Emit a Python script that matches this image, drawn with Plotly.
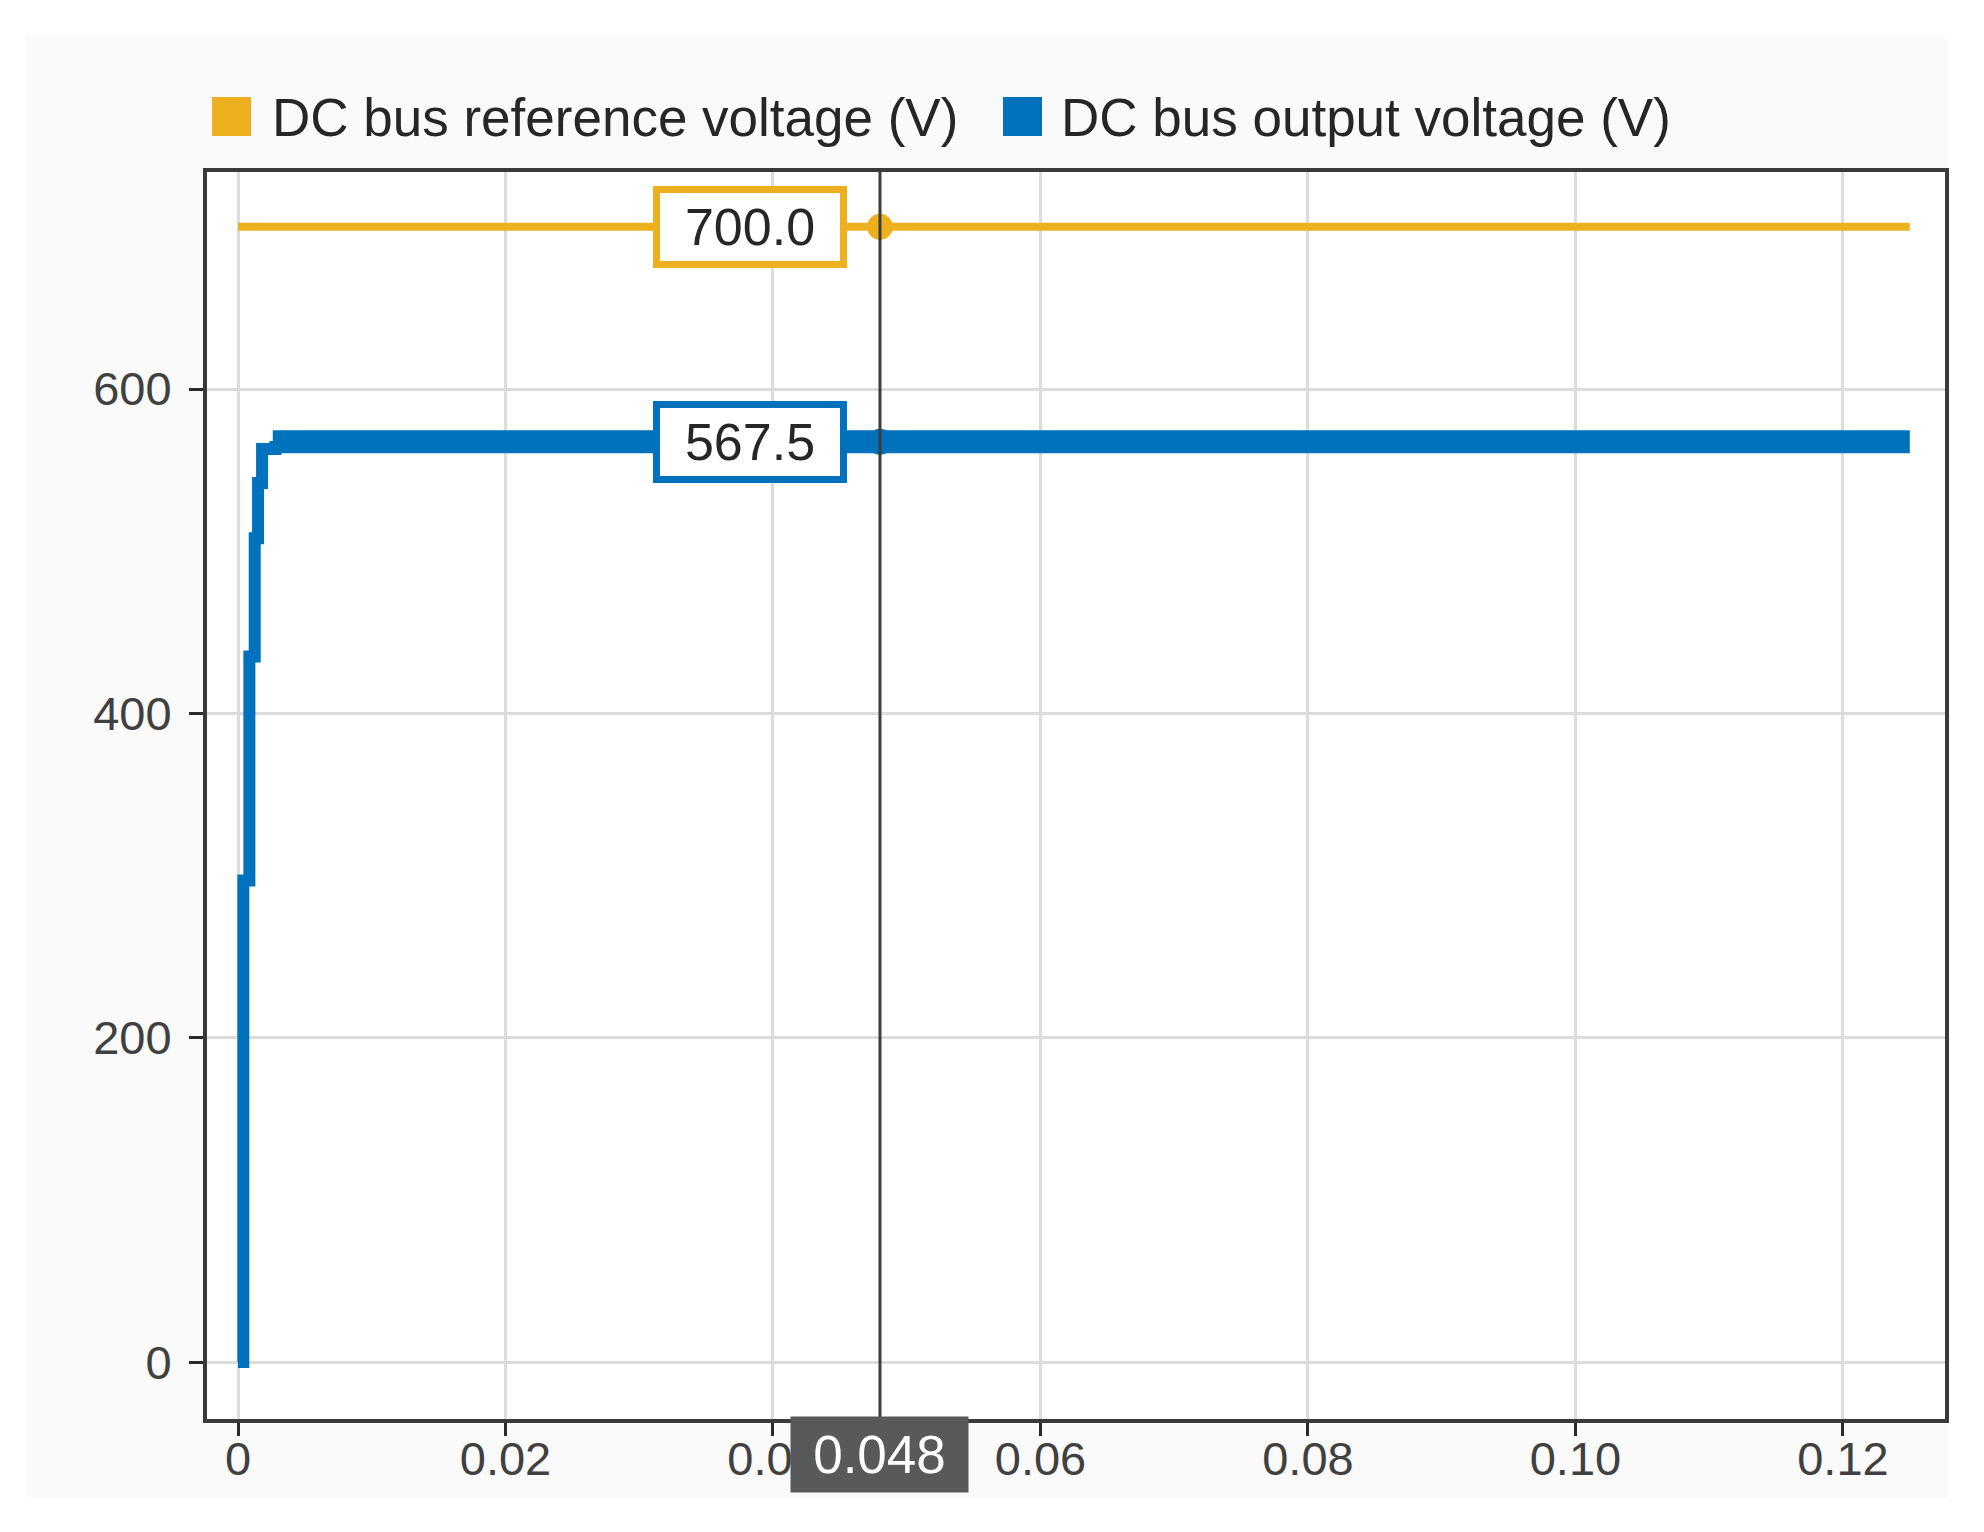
import plotly.graph_objects as go

# series names / colours
SERIES = ["DC bus reference voltage (V)", "DC bus output voltage (V)"]
COLORS = ["#EDB120", "#0072BD"]

# reference voltage (flat)
t_ref = [0.0, 0.125]
v_ref = [700.0, 700.0]

# output voltage: step-like start-up, then steady ripple band
t_out = [0.0, 0.0004, 0.00085, 0.00125, 0.0015, 0.0018, 0.0028]
v_out = [0.0, 297.0, 435.0, 508.0, 542.0, 563.0, 568.0]
t_steady = [0.0026, 0.125]
v_steady = [567.5, 567.5]

# data cursor
cursor_t = 0.048
cursor_vals = [700.0, 567.5]

x_ticks = [0, 0.02, 0.04, 0.06, 0.08, 0.10, 0.12]
x_ticktext = ["0", "0.02", "0.04", "0.06", "0.08", "0.10", "0.12"]
y_ticks = [0, 200, 400, 600]

TICK_FONT = dict(family="Liberation Sans, Arial", size=47, color="#404040")
LEG_FONT = dict(family="Liberation Sans, Arial", size=53, color="#262626")

# page is offset by the 8px body margin, so work in page pixels and convert
OFF = 8
W, H = 1984 - 2 * OFF, 1532 - 2 * OFF
L, T = 207 - OFF, 172 - OFF
R = W - (1945 - OFF)
B = H - (1419 - OFF)
pw, ph = W - L - R, H - T - B


def px_x(p):
    return (p - OFF - L) / pw


def px_y(p):
    return (H - B - (p - OFF)) / ph


fig = go.Figure()

fig.add_trace(go.Scatter(x=t_ref, y=v_ref, mode="lines", name=SERIES[0],
                         line=dict(color=COLORS[0], width=8), showlegend=False))
fig.add_trace(go.Scatter(x=t_out, y=v_out, mode="lines", name=SERIES[1],
                         line=dict(color=COLORS[1], width=12, shape="hv"), showlegend=False))
fig.add_trace(go.Scatter(x=t_steady, y=v_steady, mode="lines", name=SERIES[1],
                         line=dict(color=COLORS[1], width=23), showlegend=False))

# cursor dots
for val, col in zip(cursor_vals, COLORS):
    fig.add_trace(go.Scatter(x=[cursor_t], y=[val], mode="markers",
                             marker=dict(color=col, size=26), showlegend=False))

# cursor line
fig.add_shape(type="line", xref="x", yref="paper", x0=cursor_t, x1=cursor_t, y0=0, y1=1,
              line=dict(color="#3c3c3c", width=3), layer="above")

# cursor value boxes
for val, col in zip(cursor_vals, COLORS):
    fig.add_annotation(x=cursor_t, y=val, xref="x", yref="y", text=f"{val:.1f}",
                       showarrow=False, xanchor="right", yanchor="middle", xshift=-33,
                       font=dict(family="Liberation Sans, Arial", size=52, color="#262626"),
                       bgcolor="white", bordercolor=col, borderwidth=7, borderpad=3,
                       width=174, height=62)

# cursor time label on the x axis
fig.add_annotation(x=cursor_t, y=px_y(1454), xref="x", yref="paper", text=f"{cursor_t:.3f}",
                   showarrow=False, xanchor="center", yanchor="middle",
                   font=dict(family="Liberation Sans, Arial", size=53, color="white"),
                   bgcolor="#58595b", borderpad=0, width=177, height=75)

# light grey panel behind everything, white plotting area on top of it
fig.add_shape(type="rect", xref="paper", yref="paper",
              x0=px_x(27), x1=px_x(1948), y0=px_y(1497), y1=px_y(36),
              fillcolor="#fafafa", line=dict(width=0), layer="below")
fig.add_shape(type="rect", xref="paper", yref="paper", x0=0, x1=1, y0=0, y1=1,
              fillcolor="white", line=dict(width=0), layer="below")

# manual legend with big square swatches
leg_sq = [(213, 250), (1004, 1041)]
leg_txt = [270, 1059]
for name, col, (a, b), tx in zip(SERIES, COLORS, leg_sq, leg_txt):
    fig.add_shape(type="rect", xref="paper", yref="paper",
                  x0=px_x(a), x1=px_x(b), y0=px_y(135), y1=px_y(98),
                  fillcolor=col, line=dict(color=col, width=2))
    fig.add_annotation(x=px_x(tx), y=px_y(117), xref="paper", yref="paper", text=name,
                       showarrow=False, xanchor="left", yanchor="middle", font=LEG_FONT)

fig.update_xaxes(range=[-0.002318, 0.12763], tickvals=x_ticks, ticktext=x_ticktext,
                 showgrid=True, gridcolor="#dcdcdc", gridwidth=3, zeroline=False,
                 showline=True, linecolor="#3a3a3a", linewidth=4, mirror=True,
                 ticks="outside", ticklen=13, tickwidth=3, tickcolor="#2a2a2a",
                 tickfont=TICK_FONT, ticklabelstandoff=-17)
fig.update_yaxes(range=[-35.1, 733.8], tickvals=y_ticks,
                 showgrid=True, gridcolor="#dcdcdc", gridwidth=3, zeroline=False,
                 showline=True, linecolor="#3a3a3a", linewidth=4, mirror=True,
                 ticks="outside", ticklen=14, tickwidth=3, tickcolor="#2a2a2a",
                 tickfont=TICK_FONT, ticklabelstandoff=8)

fig.update_layout(width=W, height=H, margin=dict(l=L, r=R, t=T, b=B),
                  paper_bgcolor="white", plot_bgcolor="white", showlegend=False)

fig.write_html("out.html")
